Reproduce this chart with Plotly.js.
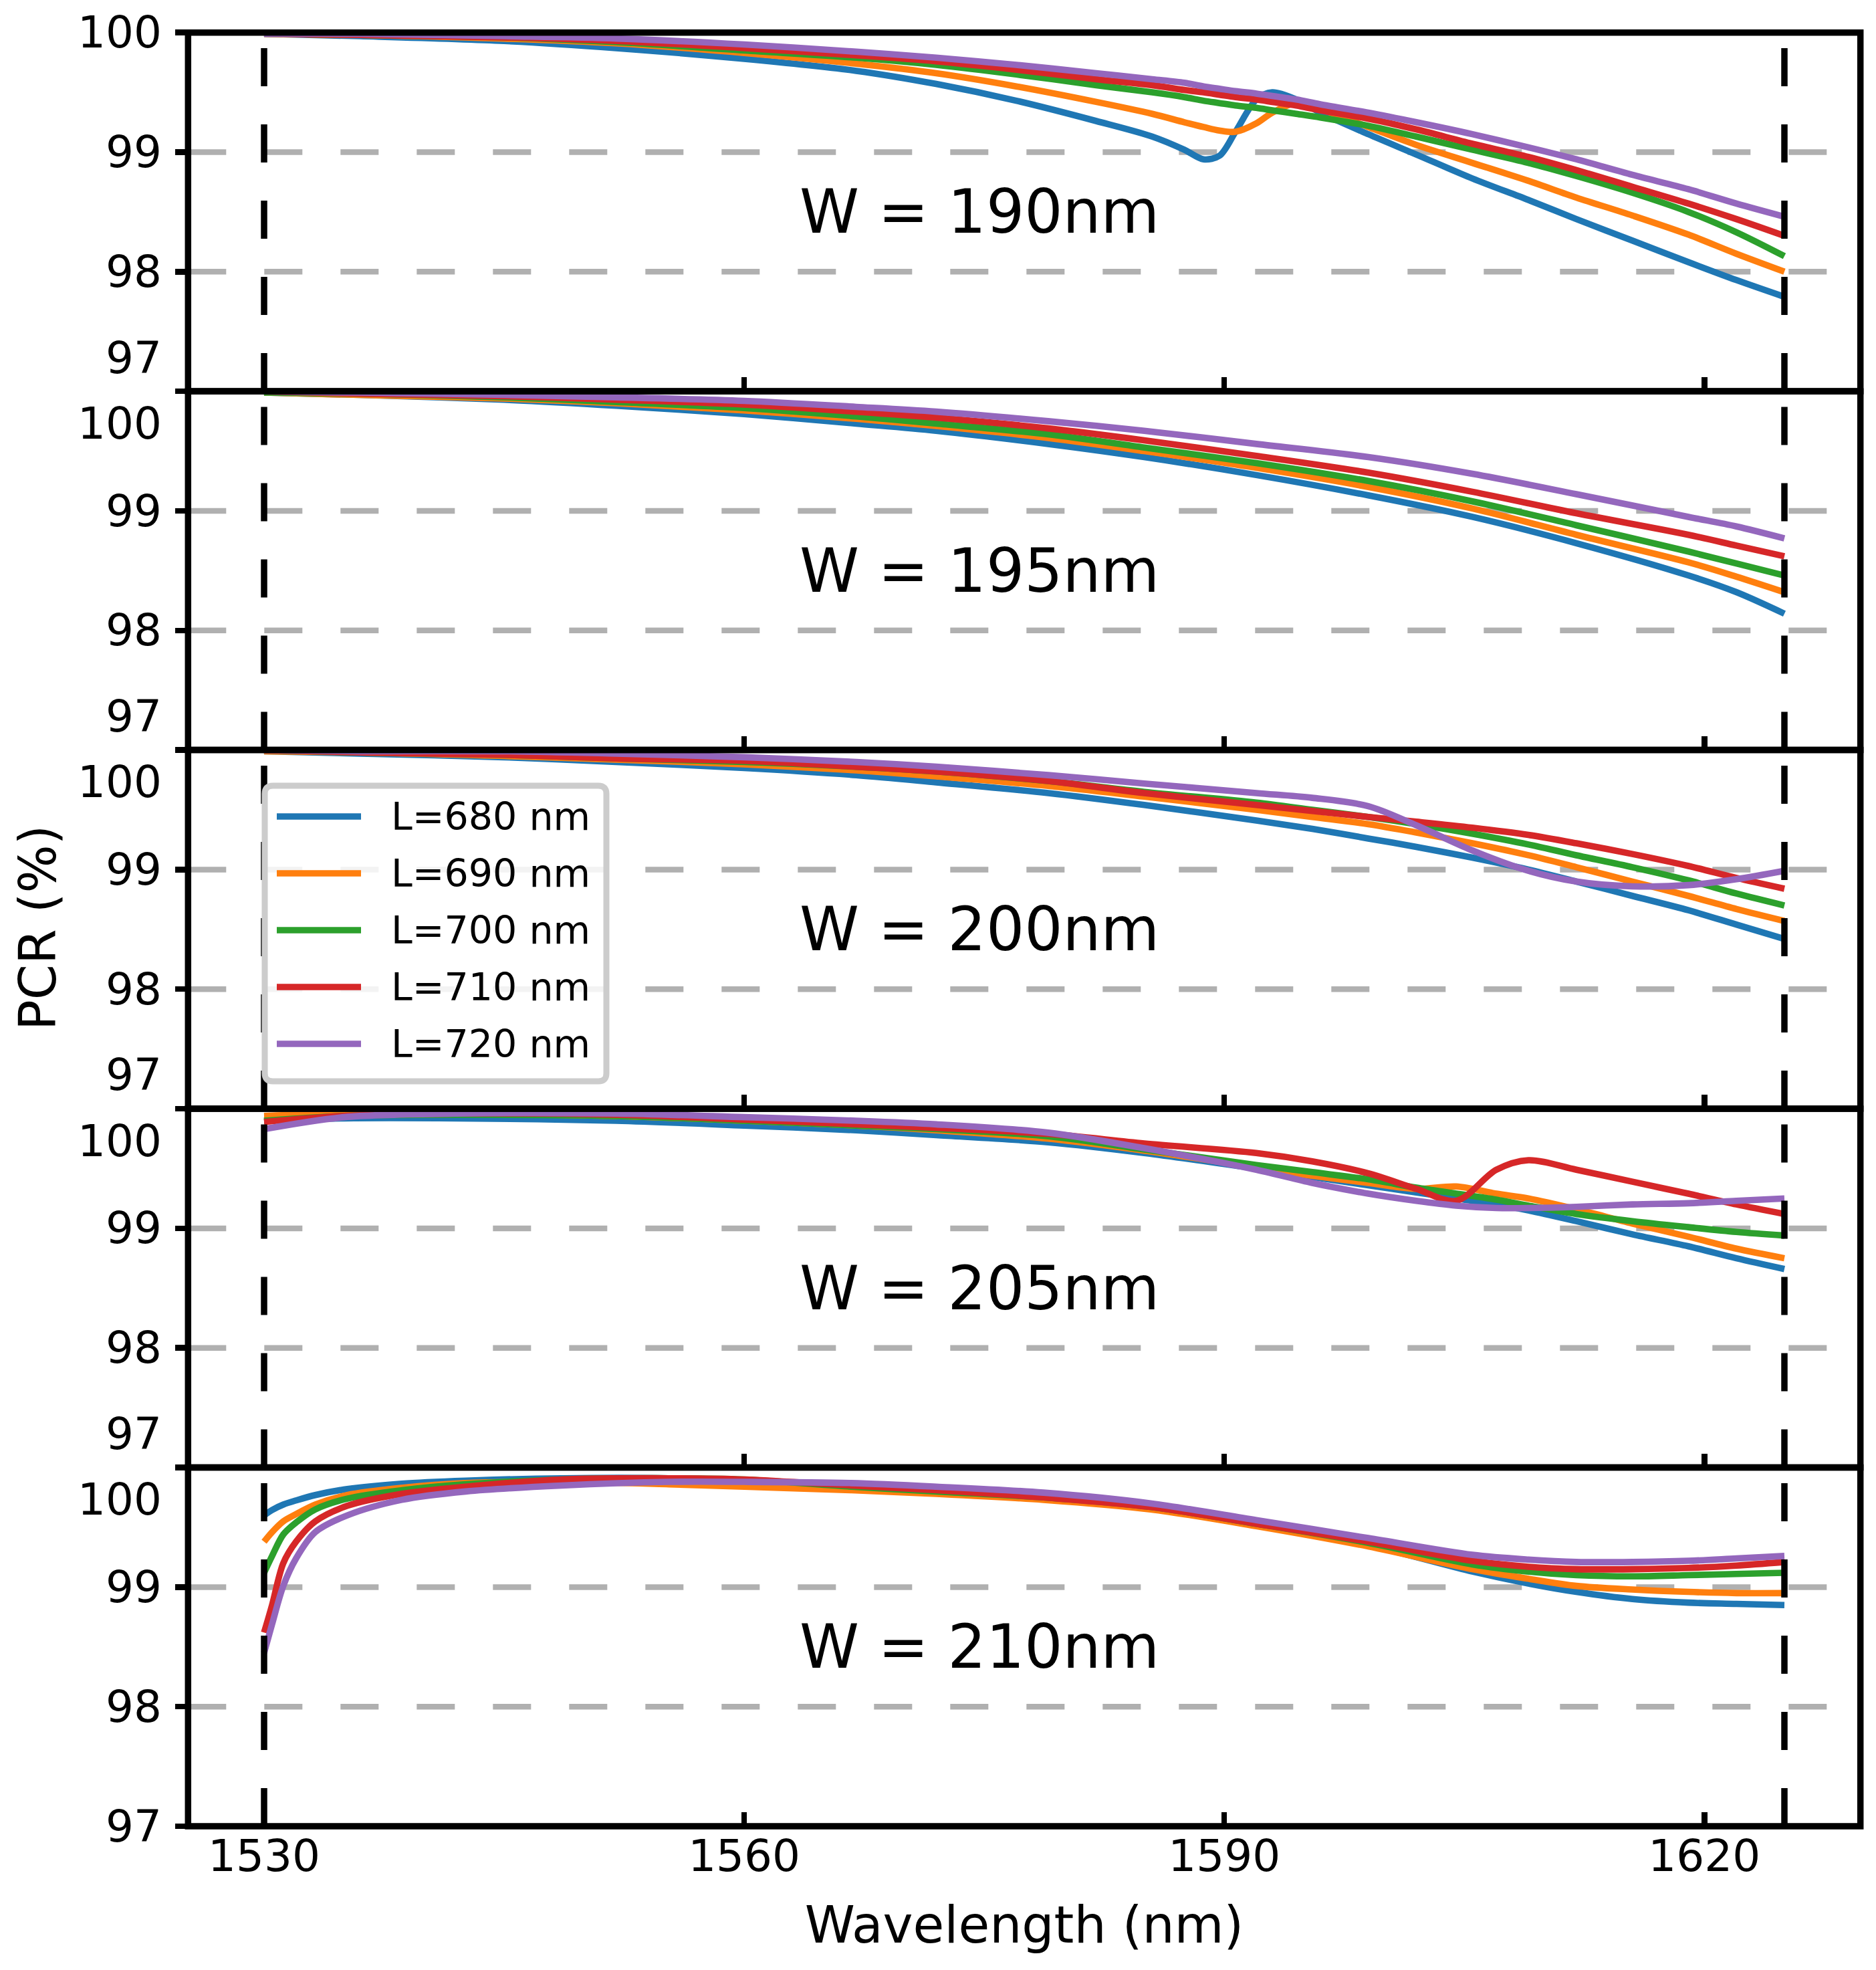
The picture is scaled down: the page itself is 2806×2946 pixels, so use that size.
<!DOCTYPE html>
<html>
<head>
<meta charset="utf-8">
<script src="https://cdn.plot.ly/plotly-3.0.1.min.js"></script>
<style>
html,body{margin:0;padding:0;background:#ffffff;}
#chart{width:2806px;height:2946px;}
</style>
</head>
<body>
<div id="chart"></div>
<script>
// ---------------- DATA ----------------
const seriesNames = ['L=680 nm', 'L=690 nm', 'L=700 nm', 'L=710 nm', 'L=720 nm'];
const panelLabels = ['W = 190nm', 'W = 195nm', 'W = 200nm', 'W = 205nm', 'W = 210nm'];
const xTickVals = [1530, 1560, 1590, 1620];
const xTickText = ['1530', '1560', '1590', '1620'];
const yTickVals = [97, 98, 99, 100];
const yTickText = ['97', '98', '99', '100'];
const bandEdges = [1530, 1625];
const refLevels = [98, 99];

// W = 190 nm
const wl190 = [1530, 1536, 1545, 1552, 1560, 1567, 1572, 1577, 1582, 1585.5, 1587.5, 1588.7, 1589.7, 1590.7, 1592, 1593, 1594.5, 1596, 1599, 1602, 1605.5, 1609, 1612, 1615.5, 1619, 1622, 1625];
const pcr190_680 = [99.99, 99.97, 99.93, 99.87, 99.78, 99.68, 99.57, 99.43, 99.26, 99.13, 99.02, 98.94, 98.97, 99.17, 99.44, 99.50, 99.44, 99.33, 99.15, 98.98, 98.78, 98.60, 98.44, 98.26, 98.08, 97.93, 97.79];
const pcr190_690 = [99.99, 99.98, 99.95, 99.91, 99.83, 99.74, 99.66, 99.55, 99.42, 99.32, 99.25, 99.21, 99.18, 99.17, 99.24, 99.33, 99.41, 99.36, 99.21, 99.06, 98.91, 98.76, 98.62, 98.47, 98.31, 98.15, 98.00];
const pcr190_700 = [99.99, 99.98, 99.96, 99.92, 99.85, 99.79, 99.73, 99.65, 99.56, 99.50, 99.46, 99.43, 99.41, 99.39, 99.37, 99.35, 99.32, 99.29, 99.22, 99.13, 99.02, 98.91, 98.80, 98.66, 98.50, 98.33, 98.13];
const pcr190_710 = [99.99, 99.98, 99.96, 99.93, 99.87, 99.81, 99.76, 99.69, 99.61, 99.56, 99.52, 99.50, 99.48, 99.46, 99.44, 99.42, 99.39, 99.35, 99.28, 99.19, 99.07, 98.96, 98.85, 98.71, 98.57, 98.44, 98.30];
const pcr190_720 = [99.99, 99.99, 99.97, 99.95, 99.90, 99.84, 99.79, 99.73, 99.66, 99.61, 99.58, 99.55, 99.53, 99.51, 99.49, 99.47, 99.44, 99.40, 99.33, 99.25, 99.15, 99.04, 98.94, 98.81, 98.69, 98.57, 98.46];

// W = 195 nm
const wl195 = [1530, 1536, 1545, 1552, 1560, 1567, 1572, 1579, 1585, 1592, 1599, 1605.5, 1612, 1619, 1622, 1625];
const pcr195_680 = [99.99, 99.97, 99.93, 99.88, 99.81, 99.73, 99.67, 99.56, 99.45, 99.30, 99.13, 98.95, 98.73, 98.46, 98.32, 98.14];
const pcr195_690 = [99.99, 99.97, 99.94, 99.90, 99.84, 99.77, 99.71, 99.61, 99.50, 99.36, 99.20, 99.02, 98.80, 98.57, 98.45, 98.32];
const pcr195_700 = [99.99, 99.98, 99.95, 99.91, 99.86, 99.79, 99.73, 99.64, 99.53, 99.40, 99.25, 99.08, 98.88, 98.66, 98.56, 98.46];
const pcr195_710 = [100.0, 99.98, 99.96, 99.93, 99.89, 99.83, 99.78, 99.69, 99.59, 99.46, 99.32, 99.16, 98.98, 98.80, 98.71, 98.62];
const pcr195_720 = [100.0, 99.99, 99.97, 99.95, 99.92, 99.87, 99.83, 99.75, 99.67, 99.56, 99.45, 99.31, 99.14, 98.95, 98.87, 98.77];

// W = 200 nm
const wl200 = [1530, 1536, 1545, 1552, 1560, 1567, 1572, 1579, 1585, 1592, 1595.5, 1599, 1602, 1605.5, 1609, 1612, 1615.5, 1619, 1622, 1625];
const pcr200_680 = [99.99, 99.97, 99.94, 99.90, 99.85, 99.79, 99.73, 99.64, 99.54, 99.41, 99.34, 99.26, 99.19, 99.10, 99.00, 98.90, 98.78, 98.66, 98.54, 98.42];
const pcr200_690 = [99.99, 99.98, 99.95, 99.92, 99.88, 99.83, 99.78, 99.70, 99.61, 99.50, 99.44, 99.38, 99.31, 99.22, 99.12, 99.02, 98.90, 98.78, 98.67, 98.57];
const pcr200_700 = [100.0, 99.98, 99.96, 99.93, 99.90, 99.86, 99.82, 99.74, 99.65, 99.56, 99.50, 99.44, 99.38, 99.30, 99.21, 99.12, 99.02, 98.91, 98.80, 98.70];
const pcr200_710 = [100.0, 99.98, 99.96, 99.93, 99.91, 99.86, 99.82, 99.74, 99.64, 99.54, 99.49, 99.44, 99.40, 99.35, 99.29, 99.22, 99.13, 99.03, 98.93, 98.84];
const pcr200_720 = [100.0, 99.99, 99.99, 99.97, 99.94, 99.90, 99.86, 99.79, 99.72, 99.64, 99.60, 99.53, 99.37, 99.16, 98.99, 98.90, 98.86, 98.87, 98.92, 98.99];

// W = 205 nm
const wl205 = [1530, 1535, 1542, 1552, 1560, 1567, 1572, 1579, 1585, 1592, 1595.5, 1599, 1602, 1604.5, 1607, 1609, 1612, 1615.5, 1619, 1622, 1625];
const pcr205_680 = [99.90, 99.92, 99.92, 99.90, 99.86, 99.82, 99.78, 99.72, 99.63, 99.50, 99.43, 99.36, 99.30, 99.25, 99.20, 99.15, 99.06, 98.95, 98.85, 98.75, 98.66];
const pcr205_690 = [99.94, 99.96, 99.96, 99.94, 99.90, 99.86, 99.82, 99.75, 99.65, 99.51, 99.44, 99.38, 99.33, 99.35, 99.29, 99.25, 99.16, 99.04, 98.93, 98.83, 98.75];
const pcr205_700 = [99.90, 99.94, 99.95, 99.94, 99.90, 99.86, 99.83, 99.77, 99.66, 99.53, 99.47, 99.41, 99.34, 99.29, 99.24, 99.19, 99.12, 99.06, 99.01, 98.97, 98.94];
const pcr205_710 = [99.89, 99.94, 99.96, 99.95, 99.91, 99.87, 99.84, 99.79, 99.71, 99.63, 99.56, 99.46, 99.33, 99.23, 99.49, 99.57, 99.49, 99.39, 99.29, 99.20, 99.12];
const pcr205_720 = [99.83, 99.93, 99.96, 99.96, 99.93, 99.90, 99.87, 99.80, 99.67, 99.49, 99.38, 99.29, 99.23, 99.19, 99.17, 99.17, 99.18, 99.20, 99.21, 99.23, 99.25];

// W = 210 nm
const wl210 = [1530, 1530.5, 1531.2, 1532, 1533.2, 1535.2, 1538.6, 1542.6, 1548.6, 1555.3, 1560, 1566.7, 1572, 1578.7, 1585.4, 1592, 1599, 1605.5, 1609, 1612, 1615.5, 1619, 1622, 1625];
const pcr210_680 = [99.60, 99.645, 99.69, 99.725, 99.77, 99.82, 99.865, 99.89, 99.91, 99.91, 99.89, 99.85, 99.80, 99.74, 99.66, 99.52, 99.35, 99.13, 99.03, 98.96, 98.90, 98.87, 98.86, 98.85];
const pcr210_690 = [99.38, 99.46, 99.55, 99.61, 99.69, 99.77, 99.83, 99.87, 99.88, 99.86, 99.84, 99.81, 99.78, 99.73, 99.65, 99.51, 99.34, 99.15, 99.07, 99.01, 98.98, 98.96, 98.95, 98.95];
const pcr210_700 = [99.12, 99.26, 99.44, 99.54, 99.65, 99.74, 99.81, 99.86, 99.90, 99.91, 99.90, 99.84, 99.80, 99.75, 99.67, 99.53, 99.37, 99.19, 99.13, 99.10, 99.09, 99.10, 99.11, 99.12];
const pcr210_710 = [98.62, 98.85, 99.20, 99.38, 99.55, 99.68, 99.78, 99.84, 99.90, 99.91, 99.90, 99.85, 99.81, 99.75, 99.67, 99.53, 99.38, 99.22, 99.17, 99.15, 99.15, 99.16, 99.18, 99.21];
const pcr210_720 = [98.45, 98.69, 99.01, 99.24, 99.46, 99.60, 99.73, 99.80, 99.85, 99.88, 99.88, 99.87, 99.84, 99.79, 99.70, 99.56, 99.41, 99.27, 99.23, 99.21, 99.21, 99.22, 99.24, 99.26];

// --------------- ASSEMBLY ---------------
const panels = [
  {wl: wl190, ys: [pcr190_680, pcr190_690, pcr190_700, pcr190_710, pcr190_720]},
  {wl: wl195, ys: [pcr195_680, pcr195_690, pcr195_700, pcr195_710, pcr195_720]},
  {wl: wl200, ys: [pcr200_680, pcr200_690, pcr200_700, pcr200_710, pcr200_720]},
  {wl: wl205, ys: [pcr205_680, pcr205_690, pcr205_700, pcr205_710, pcr205_720]},
  {wl: wl210, ys: [pcr210_680, pcr210_690, pcr210_700, pcr210_710, pcr210_720]}
];

const colors = ['#1f77b4', '#ff7f0e', '#2ca02c', '#d62728', '#9467bd'];
const FONT = 'DejaVu Sans, Liberation Sans, sans-serif';
const W = 2806, H = 2946;
const panelTop = [48.7, 585.2, 1121.6, 1658.1, 2194.6];
const panelH = 536.4;
const xLeftPx = 281.3, xRightPx = 2782.7;
const xRange = [1525.25, 1629.75];
const yRange = [97, 100];
const LW = 9.6;

const px = v => v / W;
const py = v => 1 - v / H;

const traces = [];
const layout = {
  width: W, height: H,
  margin: {l: 0, r: 0, t: 0, b: 0, pad: 0},
  paper_bgcolor: '#ffffff', plot_bgcolor: '#ffffff',
  showlegend: false,
  font: {family: FONT, color: '#000000', size: 66},
  shapes: [], annotations: []
};

panels.forEach((p, i) => {
  const sfx = i === 0 ? '' : String(i + 1);
  const xa = 'x' + sfx, ya = 'y' + sfx;
  p.ys.forEach((vals, s) => {
    traces.push({
      type: 'scatter', mode: 'lines',
      x: p.wl, y: vals, xaxis: xa, yaxis: ya,
      name: seriesNames[s], showlegend: false,
      line: {color: colors[s], width: LW, shape: 'spline', smoothing: 0.9},
      hoverinfo: 'skip'
    });
  });
  const top = panelTop[i];
  layout['xaxis' + sfx] = {
    domain: [px(xLeftPx), px(xRightPx)], range: xRange, anchor: ya,
    tickmode: 'array', tickvals: xTickVals, ticktext: xTickText,
    ticks: 'inside', ticklen: 21, tickwidth: 8.5, tickcolor: '#000000',
    showticklabels: i === 4, tickfont: {family: FONT, size: 66, color: '#000000'},
    showgrid: false, zeroline: false, showline: false, fixedrange: true
  };
  if (i === 4) {
    layout['xaxis' + sfx].title = {text: 'Wavelength (nm)', font: {family: FONT, size: 76, color: '#000000'}, standoff: 38};
  }
  layout['yaxis' + sfx] = {
    domain: [py(top + panelH), py(top)], range: yRange, anchor: xa,
    tickmode: 'array', tickvals: yTickVals, ticktext: yTickText,
    ticks: 'outside', ticklen: 18, tickwidth: 8.5, tickcolor: '#000000',
    showticklabels: false,
    showgrid: false, zeroline: false, showline: false, fixedrange: true
  };
  // gray reference levels
  refLevels.forEach(lv => {
    layout.shapes.push({type: 'line', layer: 'below', xref: xa + ' domain', x0: 0, x1: 1, yref: ya, y0: lv, y1: lv,
      line: {color: '#b0b0b0', width: 8.5, dash: '57px,57px'}});
  });
  // black band edges (drawn bottom -> top)
  bandEdges.forEach(e => {
    layout.shapes.push({type: 'line', layer: 'above', xref: xa, x0: e, x1: e, yref: ya + ' domain', y0: 0, y1: 1,
      line: {color: '#000000', width: 9.5, dash: '57px,57px'}});
  });
  // frame
  layout.shapes.push({type: 'rect', layer: 'above', xref: xa + ' domain', yref: ya + ' domain', x0: 0, x1: 1, y0: 0, y1: 1,
    line: {color: '#000000', width: 9.5}, fillcolor: 'rgba(0,0,0,0)'});
  // y tick labels (shifted at panel joins as in the reference)
  yTickVals.forEach((v, k) => {
    let pos = v;
    if (v === 100 && i > 0) pos = 99.73;
    if (v === 97 && i < 4) pos = 97.28;
    layout.annotations.push({xref: 'paper', x: px(244), xanchor: 'right', yref: ya, y: pos, yanchor: 'middle',
      text: yTickText[k], showarrow: false, font: {family: FONT, size: 66, color: '#000000'}});
  });
  // panel label
  layout.annotations.push({xref: xa, x: 1563.4, xanchor: 'left', yref: ya, y: 98.5, yanchor: 'middle',
    text: panelLabels[i], showarrow: false, font: {family: FONT, size: 90, color: '#000000'}});
});

// y axis title
layout.annotations.push({xref: 'paper', x: px(56), xanchor: 'center', yref: 'paper', y: py(1388), yanchor: 'middle',
  text: 'PCR (%)', textangle: -90, showarrow: false, font: {family: FONT, size: 76, color: '#000000'}});

// legend (drawn by hand so the handles keep the reference length)
const lg = {x0: 396, x1: 907, y0: 1175, y1: 1617, r: 12};
const P = (x, y) => px(x) + ',' + py(y);
const legendPath = 'M' + P(lg.x0 + lg.r, lg.y0) + ' L' + P(lg.x1 - lg.r, lg.y0) +
  ' Q' + P(lg.x1, lg.y0) + ' ' + P(lg.x1, lg.y0 + lg.r) + ' L' + P(lg.x1, lg.y1 - lg.r) +
  ' Q' + P(lg.x1, lg.y1) + ' ' + P(lg.x1 - lg.r, lg.y1) + ' L' + P(lg.x0 + lg.r, lg.y1) +
  ' Q' + P(lg.x0, lg.y1) + ' ' + P(lg.x0, lg.y1 - lg.r) + ' L' + P(lg.x0, lg.y0 + lg.r) +
  ' Q' + P(lg.x0, lg.y0) + ' ' + P(lg.x0 + lg.r, lg.y0) + ' Z';
layout.shapes.push({type: 'path', layer: 'above', xref: 'paper', yref: 'paper', path: legendPath,
  fillcolor: 'rgba(255,255,255,0.85)', line: {color: '#cccccc', width: 9}});
const rowY = [1221, 1306, 1391, 1476, 1561];
seriesNames.forEach((nm, s) => {
  layout.shapes.push({type: 'line', layer: 'above', xref: 'paper', yref: 'paper',
    x0: px(414), x1: px(540), y0: py(rowY[s]), y1: py(rowY[s]), line: {color: colors[s], width: LW}});
  layout.annotations.push({xref: 'paper', x: px(583), xanchor: 'left', yref: 'paper', y: py(rowY[s]), yanchor: 'middle',
    text: nm, showarrow: false, font: {family: FONT, size: 57, color: '#000000'}});
});

Plotly.newPlot('chart', traces, layout, {staticPlot: true, displayModeBar: false});
</script>
</body>
</html>
